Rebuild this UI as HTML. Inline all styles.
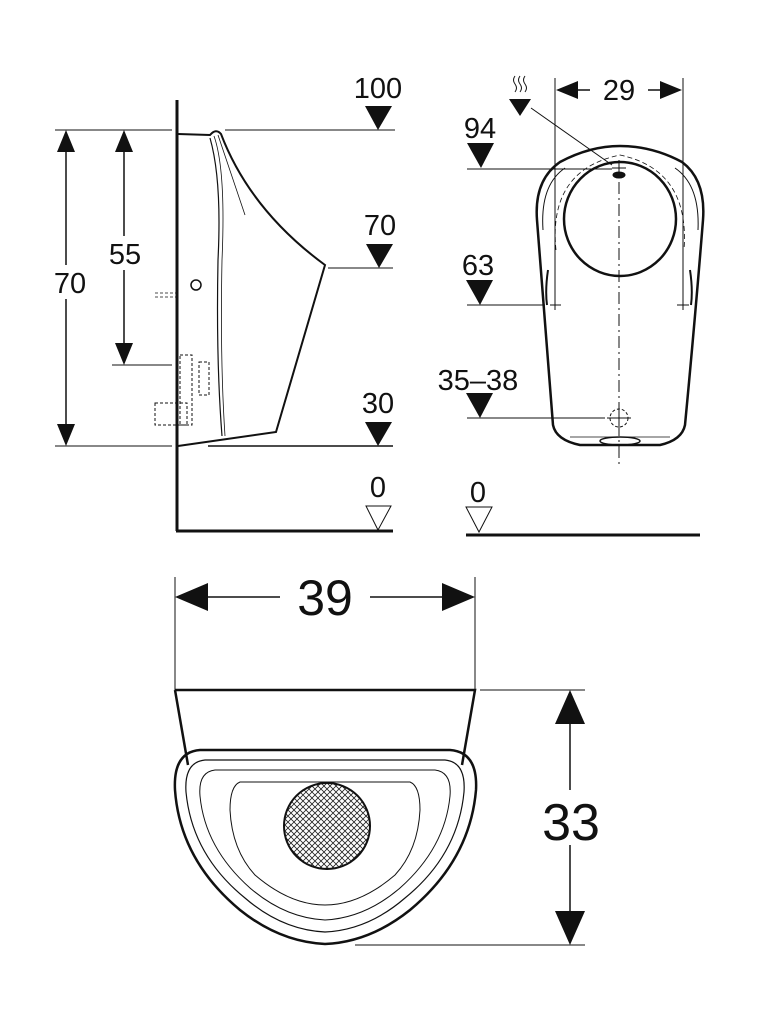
<!DOCTYPE html>
<html><head><style>html,body{margin:0;padding:0;background:#fff}svg{display:block}text{font-family:"Liberation Sans",sans-serif;fill:#111}</style></head>
<body>
<svg width="769" height="1024" viewBox="0 0 769 1024" xmlns="http://www.w3.org/2000/svg" stroke="#111" fill="none">
<defs>
<pattern id="h" width="6" height="6" patternUnits="userSpaceOnUse"><path d="M0 0L6 6M6 0L0 6" stroke="#222" stroke-width="0.8"/></pattern>
</defs>
<!-- SIDE VIEW -->
<line x1="177" y1="100" x2="177" y2="531" stroke-width="3"/>
<line x1="176" y1="531" x2="393" y2="531" stroke-width="3"/>
<line x1="55" y1="130" x2="172" y2="130" stroke-width="1"/>
<line x1="225" y1="130" x2="395" y2="130" stroke-width="1"/>
<line x1="328" y1="268" x2="393" y2="268" stroke-width="1"/>
<line x1="208" y1="446" x2="393" y2="446" stroke-width="1.5"/>
<line x1="55" y1="446" x2="172" y2="446" stroke-width="1"/>
<line x1="112" y1="365" x2="172" y2="365" stroke-width="1"/>
<line x1="66" y1="150" x2="66" y2="428" stroke-width="1.5"/>
<path d="M66 130L57 152H75Z M66 446L57 424H75Z" fill="#111" stroke="none"/>
<line x1="124" y1="150" x2="124" y2="345" stroke-width="1.5"/>
<path d="M124 130L115 152H133Z M124 365L115 343H133Z" fill="#111" stroke="none"/>
<rect x="50" y="265" width="42" height="34" fill="#fff" stroke="none"/>
<text x="70" y="293" font-size="29" text-anchor="middle" stroke="none">70</text>
<rect x="102" y="236" width="44" height="34" fill="#fff" stroke="none"/>
<text x="125" y="264" font-size="29" text-anchor="middle" stroke="none">55</text>
<text x="378" y="98" font-size="29" text-anchor="middle" stroke="none">100</text>
<path d="M365 106H392L378 130Z" fill="#111" stroke="none"/>
<text x="380" y="235" font-size="29" text-anchor="middle" stroke="none">70</text>
<path d="M366 244H393L379 268Z" fill="#111" stroke="none"/>
<text x="378" y="413" font-size="29" text-anchor="middle" stroke="none">30</text>
<path d="M365 422H392L378 446Z" fill="#111" stroke="none"/>
<text x="378" y="497" font-size="29" text-anchor="middle" stroke="none">0</text>
<path d="M366 506H391L378 530Z" stroke-width="1"/>
<path d="M178 134L210 135Q216 128 221 134Q250 210 325 265L276 432L178 446" stroke-width="2"/>
<path d="M210 138Q222 180 218 260Q216 360 222 436" stroke-width="1.2"/>
<path d="M214 136Q226 170 222 260Q220 360 225 436" stroke-width="0.8"/>
<path d="M218 135Q240 200 245 215" stroke-width="0.8"/>
<circle cx="196" cy="285" r="5" stroke-width="1.5"/>
<path d="M155 293H176M155 297H176" stroke-width="0.8" stroke-dasharray="3,2"/>
<rect x="180" y="355" width="12" height="70" stroke-width="1" stroke-dasharray="3,2"/>
<rect x="199" y="362" width="10" height="33" stroke-width="1" stroke-dasharray="3,2"/>
<rect x="155" y="403" width="32" height="22" stroke-width="1" stroke-dasharray="3,2"/>
<!-- FRONT VIEW -->
<line x1="555" y1="78" x2="555" y2="305" stroke-width="1"/>
<line x1="683" y1="78" x2="683" y2="305" stroke-width="1"/>
<line x1="575" y1="90" x2="590" y2="90" stroke-width="1.5"/>
<line x1="648" y1="90" x2="663" y2="90" stroke-width="1.5"/>
<path d="M556 90L578 81V99Z M682 90L660 81V99Z" fill="#111" stroke="none"/>
<text x="619" y="100" font-size="29" text-anchor="middle" stroke="none">29</text>
<path d="M515 76q-3 4 0 8t0 8M520 76q-3 4 0 8t0 8M525 76q-3 4 0 8t0 8" stroke-width="1"/>
<path d="M509 99H531L520 116Z" fill="#111" stroke="none"/>
<line x1="531" y1="108" x2="612" y2="165" stroke-width="1"/>
<text x="480" y="138" font-size="29" text-anchor="middle" stroke="none">94</text>
<path d="M467 143H494L481 168Z" fill="#111" stroke="none"/>
<line x1="467" y1="169" x2="612" y2="169" stroke-width="1"/>
<text x="478" y="275" font-size="29" text-anchor="middle" stroke="none">63</text>
<path d="M466 280H493L480 305Z" fill="#111" stroke="none"/>
<line x1="467" y1="305" x2="545" y2="305" stroke-width="1"/>
<text x="478" y="390" font-size="29" text-anchor="middle" stroke="none">35–38</text>
<path d="M466 393H493L480 418Z" fill="#111" stroke="none"/>
<line x1="467" y1="418" x2="605" y2="418" stroke-width="1"/>
<text x="478" y="502" font-size="29" text-anchor="middle" stroke="none">0</text>
<path d="M466 507H492L479 532Z" stroke-width="1"/>
<line x1="466" y1="535" x2="700" y2="535" stroke-width="3"/>
<path d="M553 425Q545 320 537 220Q534 180 560 162Q590 146 620 146Q652 146 682 162Q706 180 703 220Q695 320 685 425Q682 440 660 445L580 445Q556 440 553 425Z" stroke-width="2.5"/>
<path d="M543 230Q540 185 565 168M698 230Q700 185 675 168" stroke-width="1"/>
<path d="M547 305Q545 290 548 270M691 305Q693 290 690 270" stroke-width="2"/>
<ellipse cx="620" cy="219" rx="56" ry="57" stroke-width="2.5"/>
<path d="M556 250Q548 170 620 155Q690 170 684 250" stroke-width="0.8" stroke-dasharray="5,3"/>
<ellipse cx="620" cy="441" rx="20" ry="4" stroke-width="1.5"/>
<line x1="570" y1="437" x2="670" y2="437" stroke-width="0.8"/>
<line x1="619" y1="160" x2="619" y2="465" stroke-width="1" stroke-dasharray="12,4,2,4"/>
<path d="M612 168H626M619 162V176M550 305H561M555 300V310M677 305H689M683 300V310M607 418H631M619 406V430" stroke-width="1"/>
<ellipse cx="619" cy="175" rx="6" ry="3" fill="#111"/>
<circle cx="619" cy="418" r="9" stroke-width="1" stroke-dasharray="3,2"/>
<!-- BOTTOM VIEW -->
<line x1="175" y1="577" x2="175" y2="690" stroke-width="1"/>
<line x1="475" y1="577" x2="475" y2="690" stroke-width="1"/>
<line x1="200" y1="597" x2="280" y2="597" stroke-width="1.5"/>
<line x1="370" y1="597" x2="450" y2="597" stroke-width="1.5"/>
<path d="M175 597L208 583V611Z M475 597L442 583V611Z" fill="#111" stroke="none"/>
<text x="325" y="615" font-size="50" text-anchor="middle" stroke="none">39</text>
<path d="M175 690H475L462 765M175 690L188 765" stroke-width="2.5"/>
<line x1="480" y1="690" x2="585" y2="690" stroke-width="1"/>
<line x1="355" y1="945" x2="585" y2="945" stroke-width="1"/>
<line x1="570" y1="720" x2="570" y2="915" stroke-width="1.5"/>
<path d="M570 690L555 724H585Z M570 945L555 911H585Z" fill="#111" stroke="none"/>
<rect x="535" y="790" width="70" height="55" fill="#fff" stroke="none"/>
<text x="571" y="840" font-size="52" text-anchor="middle" stroke="none">33</text>
<path d="M200 750H450Q478 752 476 790Q470 860 410 910Q370 942 325 944Q280 942 240 910Q180 860 175 790Q173 752 200 750Z" stroke-width="2.5"/>
<path d="M205 760H445Q466 762 464 792Q458 855 405 898Q368 930 325 932Q282 930 245 898Q192 855 186 792Q184 762 205 760Z" stroke-width="1.2"/>
<path d="M215 770H435Q452 772 450 796Q445 848 400 888Q365 918 325 920Q285 918 250 888Q205 848 200 796Q198 772 215 770Z" stroke-width="1"/>
<path d="M240 782H410Q420 786 420 810Q418 850 395 875Q360 905 325 905Q290 905 255 875Q232 850 230 810Q230 786 240 782Z" stroke-width="1"/>
<circle cx="327" cy="826" r="43" fill="url(#h)" stroke-width="2"/>
</svg>
</body></html>
